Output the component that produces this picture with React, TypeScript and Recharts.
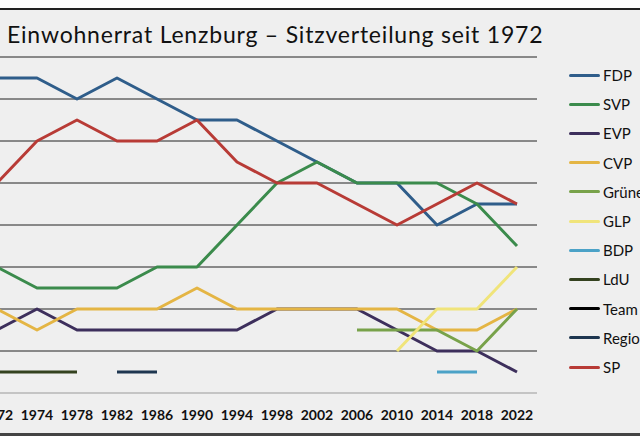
import React from "react";
import { LineChart, Line, XAxis, YAxis, CartesianGrid } from "recharts";

const years = ["1972", "1974", "1978", "1982", "1986", "1990", "1994", "1998", "2002", "2006", "2010", "2014", "2018", "2022"];

// seats per party, null = not represented / not running
const fdp = [15, 15, 14, 15, 14, 13, 13, 12, 11, 10, 10, 8, 9, 9];
const svp = [6, 5, 5, 5, 6, 6, 8, 10, 11, 10, 10, 10, 9, 7];
const evp = [3, 4, 3, 3, 3, 3, 3, 4, 4, 4, 3, 2, 2, 1];
const cvp = [4, 3, 4, 4, 4, 5, 4, 4, 4, 4, 4, 3, 3, 4];
const gruene = [null, null, null, null, null, null, null, null, null, 3, 3, 3, 2, 4];
const glp = [null, null, null, null, null, null, null, null, null, null, 2, 4, 4, 6];
const bdp = [null, null, null, null, null, null, null, null, null, null, null, 1, 1, null];
const ldu = [1, 1, 1, null, null, null, null, null, null, null, null, null, null, null];
const team = [null, null, null, null, null, null, null, null, null, null, null, null, null, null];
const regio = [null, null, null, 1, 1, null, null, null, null, null, null, null, null, null];
const sp = [10, 12, 13, 12, 12, 13, 11, 10, 10, 9, 8, 9, 10, 9];

const seatTicks = [0, 2, 4, 6, 8, 10, 12, 14, 16];

const series = [
  { name: "FDP", color: "#2f5d8a", values: fdp },
  { name: "SVP", color: "#3b8b4c", values: svp },
  { name: "EVP", color: "#3d2f5c", values: evp },
  { name: "CVP", color: "#e4b544", values: cvp },
  { name: "Grüne", color: "#78a24a", values: gruene },
  { name: "GLP", color: "#f0e47a", values: glp },
  { name: "BDP", color: "#4ba2c7", values: bdp },
  { name: "LdU", color: "#34421f", values: ldu },
  { name: "Team", color: "#000000", values: team },
  { name: "Regio", color: "#1e3650", values: regio },
  { name: "SP", color: "#b83b36", values: sp },
];

const data = years.map((year, i) => {
  const row: Record<string, string | number | null> = { year };
  series.forEach((s) => {
    row[s.name] = s.values[i];
  });
  return row;
});

const YearTick = (props: any) => {
  const { x, payload } = props;
  return (
    <text x={x} y={420} textAnchor="middle" fontFamily="Lato" fontWeight={700} fontSize={14} fill="#111">
      {payload.value}
    </text>
  );
};

export default function App() {
  return (
    <div
      style={{
        position: "absolute",
        left: 0,
        top: 0,
        width: 640,
        height: 448,
        overflow: "hidden",
        background: "#ffffff",
      }}
    >
      {/* framed grey panel */}
      <div
        style={{
          position: "absolute",
          left: 0,
          top: 8,
          width: 640,
          height: 428,
          background: "#efefef",
          borderTop: "2px solid #222",
          borderBottom: "3px solid #444",
          boxSizing: "border-box",
        }}
      />
      <div
        style={{
          position: "absolute",
          left: 7,
          top: 20,
          fontFamily: "Lato",
          fontSize: 23,
          letterSpacing: 0.8,
          color: "#111",
          whiteSpace: "nowrap",
        }}
      >
        Einwohnerrat Lenzburg – Sitzverteilung seit 1972
      </div>

      <div style={{ position: "absolute", left: -23, top: 0 }}>
        <LineChart width={560} height={448} data={data} margin={{ top: 57, right: 0, bottom: 25, left: 0 }}>
          <CartesianGrid vertical={false} stroke="#222" strokeWidth={1} />
          <YAxis hide domain={[0, 16]} ticks={seatTicks} />
          <XAxis
            dataKey="year"
            height={30}
            interval={0}
            padding={{ left: 20, right: 20 }}
            tickLine={false}
            axisLine={{ stroke: "#c4c4c4", strokeWidth: 2 }}
            tick={<YearTick />}
          />
          {series.map((s) => (
            <Line
              key={s.name}
              type="linear"
              dataKey={s.name}
              stroke={s.color}
              strokeWidth={3}
              strokeLinejoin="round"
              dot={false}
              activeDot={false}
              connectNulls={false}
              isAnimationActive={false}
            />
          ))}
        </LineChart>
      </div>

      {/* legend */}
      {series.map((s, i) => (
        <div
          key={s.name}
          style={{
            position: "absolute",
            left: 569,
            top: 75 + i * 29.2 - 10,
            height: 20,
            display: "flex",
            alignItems: "center",
            whiteSpace: "nowrap",
          }}
        >
          <div style={{ width: 31, height: 3, background: s.color, borderRadius: 2 }} />
          <span style={{ marginLeft: 3, fontFamily: "Lato", fontSize: 15, color: "#111" }}>{s.name}</span>
        </div>
      ))}
    </div>
  );
}
